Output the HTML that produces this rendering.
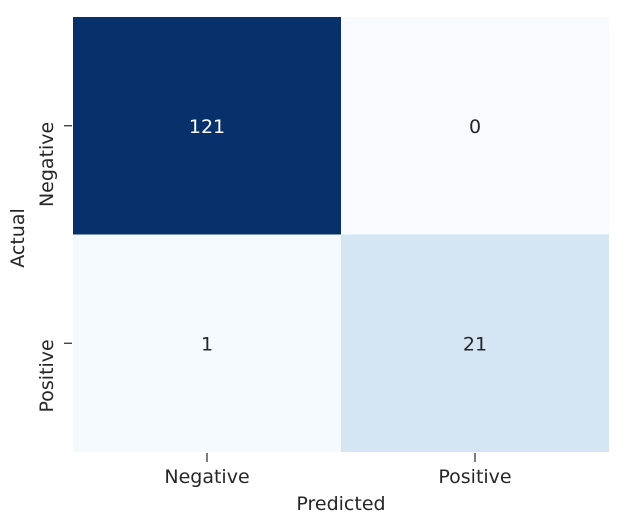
<!DOCTYPE html>
<html><head><meta charset="utf-8"><style>
body{margin:0;background:#fff;}
svg text{font-family:"DejaVu Sans","Liberation Sans",sans-serif;}
</style></head><body>
<svg id="chart" width="631" height="521"></svg>
<script>
const rowLabels=["Negative","Positive"];
const colLabels=["Negative","Positive"];
const values=[[121,0],[1,21]];
const svg=document.getElementById('chart');
const NS='http://www.w3.org/2000/svg';
const L=73,R=609,T=17,B=452;
const FS=19;
const cw=(R-L)/colLabels.length, ch=(B-T)/rowLabels.length;
const xPos=j=>L+j*cw, yPos=i=>T+i*ch;
const vmax=Math.max(...values.flat()), vmin=Math.min(...values.flat());
const stops=[[0,[247,251,255]],[0.125,[222,235,247]],[0.25,[198,219,239]],[0.375,[158,202,225]],[0.5,[107,174,214]],[0.625,[66,146,198]],[0.75,[33,113,181]],[0.875,[8,81,156]],[1,[8,48,107]]];
function color(v){const t=(v-vmin)/(vmax-vmin);for(let k=1;k<stops.length;k++){if(t<=stops[k][0]){const a=stops[k-1],b=stops[k];const f=(t-a[0])/(b[0]-a[0]);const c=a[1].map((x,i)=>Math.round(x+(b[1][i]-x)*f));return `rgb(${c})`;}}return 'rgb(8,48,107)';}
function el(tag,attrs,text){const e=document.createElementNS(NS,tag);for(const k in attrs)e.setAttribute(k,attrs[k]);if(text!==undefined)e.textContent=text;svg.appendChild(e);return e;}
values.forEach((row,i)=>row.forEach((v,j)=>{
  const r=el('rect',{x:xPos(j),y:yPos(i),width:cw,height:ch,fill:color(v)});
  
  
  const t=el('text',{x:xPos(j)+cw/2,y:yPos(i)+ch/2+7,'text-anchor':'middle','font-size':FS,fill:(v-vmin)/(vmax-vmin)>0.5?'#fff':'#262626'},String(v));
  
  
}));
colLabels.forEach((c,j)=>{
  const x=xPos(j)+cw/2;
  el('line',{x1:x,x2:x,y1:B+1,y2:B+10,stroke:'#262626','stroke-width':1.2});
  const t=el('text',{x:x,y:B+31,'text-anchor':'middle','font-size':FS,fill:'#262626'},c);
  
  
});
rowLabels.forEach((r,i)=>{
  const y=yPos(i)+ch/2;
  el('line',{x1:L-9,x2:L-1,y1:y,y2:y,stroke:'#262626','stroke-width':1.2});
  const t=el('text',{x:0,y:0,'text-anchor':'end','font-size':FS,fill:'#262626',transform:`translate(${L-20},${y-4}) rotate(-90)`},r);
  
  
});
const xt=el('text',{x:(L+R)/2,y:510,'text-anchor':'middle','font-size':FS,fill:'#262626'},'Predicted');


const yt=el('text',{x:0,y:0,'text-anchor':'middle','font-size':FS,fill:'#262626',transform:`translate(24,238) rotate(-90)`},'Actual');


</script>
</body></html>
